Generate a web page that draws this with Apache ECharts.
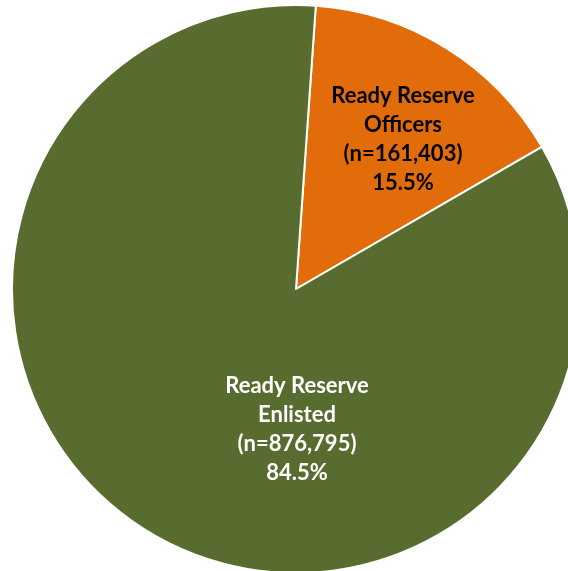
<!DOCTYPE html>
<html>
<head>
<meta charset="utf-8">
<script src="https://cdn.jsdelivr.net/npm/echarts@6/dist/echarts.min.js"></script>
<style>
  html, body { margin: 0; padding: 0; background: #ffffff; }
  #chart { width: 568px; height: 571px; }
</style>
</head>
<body>
<div id="chart"></div>
<script>
// Ready Reserve composition
const categories = ['Ready Reserve\nOfficers', 'Ready Reserve\nEnlisted'];
const counts = [161403, 876795];
const percents = ['15.5%', '84.5%'];
const sliceColors = ['#E36C0A', '#596C2F'];
const labelColors = ['#000000', '#ffffff'];

// hand placed label centres, as in the original
const labelSpots = [[403, 139], [297, 429]];

const chart = echarts.init(document.getElementById('chart'));

const option = {
    backgroundColor: '#ffffff',
    animation: false,
    series: [{
        type: 'pie',
        center: [296, 289],
        radius: 284,
        startAngle: 86,
        clockwise: true,
        itemStyle: {
            borderColor: '#ffffff',
            borderWidth: 2
        },
        label: {
            position: 'inside',
            fontFamily: 'Lato',
            fontWeight: 'bold',
            fontSize: 22,
            lineHeight: 29,
            align: 'center',
            formatter: function (p) {
                return p.name + '\n(n=' + counts[p.dataIndex].toLocaleString('en-US') + ')\n' + percents[p.dataIndex];
            }
        },
        labelLine: { show: false },
        labelLayout: function (params) {
            const spot = labelSpots[params.dataIndex];
            return { x: spot[0], y: spot[1] };
        },
        data: categories.map(function (name, i) {
            return {
                name: name,
                value: counts[i],
                itemStyle: { color: sliceColors[i] },
                label: { color: labelColors[i] }
            };
        })
    }]
};

chart.setOption(option);
</script>
</body>
</html>
